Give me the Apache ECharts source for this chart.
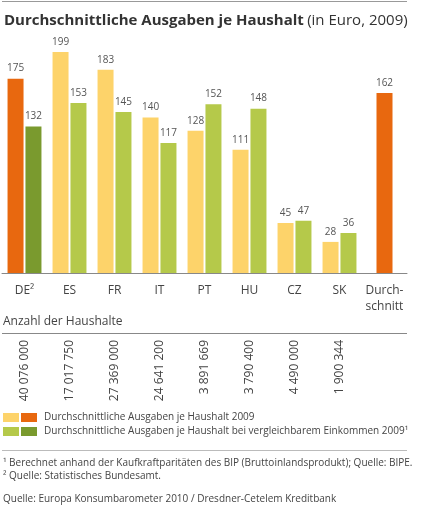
<!DOCTYPE html><html><head><meta charset="utf-8"><script src="https://cdn.jsdelivr.net/npm/echarts@6/dist/echarts.min.js"></script>
<style>body{margin:0}#c{width:423px;height:508px}</style></head><body><div id="c"></div><script>
const categories=['DE²','ES','FR','IT','PT','HU','CZ','SK','Durch-\nschnitt'];
const ausgaben=[175,199,183,140,128,111,45,28,null];
const vergleichbar=[132,153,145,117,152,148,47,36,null];
const durchschnitt=[null,null,null,null,null,null,null,null,162];
const haushalte=['40 076 000','17 017 750','27 369 000','24 641 200','3 891 669','3 790 400','4 490 000','1 900 344'];
const F='"Open Sans", "Noto Sans", sans-serif';
const c=echarts.init(document.getElementById('c'));
const lbl={show:true,position:'top',color:'#555',fontSize:10,fontFamily:F,distance:5};
c.setOption({animation:false,
grid:{left:2,right:16,top:52,bottom:235},
xAxis:[{type:'category',data:categories,axisLine:{lineStyle:{color:'#888'}},axisTick:{length:5,lineStyle:{color:'#999'}},
axisLabel:{color:'#444',fontSize:12,fontFamily:F,margin:10,lineHeight:16,interval:0}},
{type:'category',data:categories,show:false}],
yAxis:{type:'value',min:0,max:199,show:false,splitLine:{show:false}},
series:[
{type:'bar',data:ausgaben.map((v,i)=>({value:v,itemStyle:{color:i==0?'#E8680F':'#FDD36A'}})),barWidth:16,barGap:'12%',label:lbl},
{type:'bar',data:vergleichbar.map((v,i)=>({value:v,itemStyle:{color:i==0?'#7A9A2E':'#B5C94A'}})),barWidth:16,label:lbl},
{type:'bar',xAxisIndex:1,data:durchschnitt,barWidth:16,itemStyle:{color:'#E8680F'},label:lbl}]
});
const g=[
{type:'line',shape:{x1:2,y1:1.5,x2:407,y2:1.5},style:{stroke:'#999',lineWidth:1}},
{type:'text',left:4,top:13,style:{rich:{b:{fontWeight:'bold',fontSize:15,fill:'#333',fontFamily:F},n:{fontSize:15,fill:'#333',fontFamily:F}},text:'{b|Durchschnittliche Ausgaben je Haushalt} {n|(in Euro, 2009)}'}},
{type:'text',left:3,top:316,style:{text:'Anzahl der Haushalte',fontSize:12,fill:'#444',fontFamily:F}},
{type:'line',shape:{x1:2,y1:333.5,x2:407,y2:333.5},style:{stroke:'#888',lineWidth:1}},
{type:'line',shape:{x1:2,y1:450.5,x2:407,y2:450.5},style:{stroke:'#bbb',lineWidth:1}},
{type:'rect',shape:{x:3,y:413,width:16,height:9},style:{fill:'#FDD36A'}},
{type:'rect',shape:{x:21,y:413,width:16,height:9},style:{fill:'#E8680F'}},
{type:'rect',shape:{x:3,y:427,width:16,height:9},style:{fill:'#B5C94A'}},
{type:'rect',shape:{x:21,y:427,width:16,height:9},style:{fill:'#7A9A2E'}},
{type:'text',left:44,top:412,style:{text:'Durchschnittliche Ausgaben je Haushalt 2009',fontSize:10,fill:'#444',fontFamily:F}},
{type:'text',left:44,top:426,style:{text:'Durchschnittliche Ausgaben je Haushalt bei vergleichbarem Einkommen 2009¹',fontSize:10,fill:'#444',fontFamily:F}},
{type:'text',left:3,top:457,style:{text:'¹ Berechnet anhand der Kaufkraftparitäten des BIP (Bruttoinlandsprodukt); Quelle: BIPE.\n² Quelle: Statistisches Bundesamt.',fontSize:10,lineHeight:13,fill:'#444',fontFamily:F}},
{type:'text',left:3,top:494,style:{text:'Quelle: Europa Konsumbarometer 2010 / Dresdner-Cetelem Kreditbank',fontSize:10,fill:'#444',fontFamily:F}}
];
haushalte.forEach((h,i)=>{const x=c.convertToPixel({xAxisIndex:0},categories[i]);
g.push({type:'text',x:x,y:340,rotation:Math.PI/2,style:{text:h,fontSize:12,fill:'#444',fontFamily:F,align:'right',verticalAlign:'middle'}});});
c.setOption({graphic:g});
</script></body></html>
